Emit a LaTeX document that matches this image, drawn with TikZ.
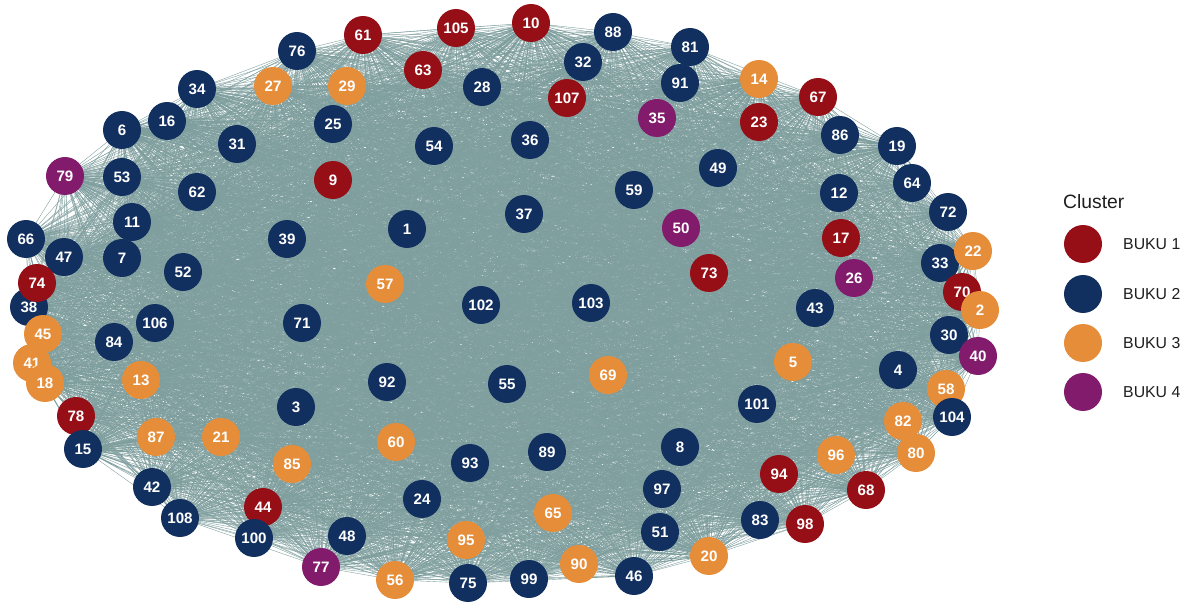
\documentclass[tikz,border=0pt]{standalone}
\usepackage{fontspec}
\setmainfont{Liberation Sans}
\usetikzlibrary{backgrounds}
\definecolor{cA}{HTML}{960E16}
\definecolor{cB}{HTML}{12305F}
\definecolor{cC}{HTML}{E68D39}
\definecolor{cD}{HTML}{821B6B}
\definecolor{edgec}{HTML}{7F9E9E}
\definecolor{legtxt}{HTML}{1E1E1E}
\tikzset{
  nd/.style={circle,inner sep=0pt,minimum size=0.76cm,text=white,
    font=\bfseries\fontsize{8.6}{10}\selectfont},
  edge/.style={draw=edgec,line width=0.22pt},
  legdot/.style={circle,inner sep=0pt,minimum size=0.76cm},
  legtext/.style={anchor=west,text=legtxt,font=\fontsize{9}{11}\selectfont},
}
\begin{document}
\begin{tikzpicture}[x=0.02cm,y=-0.02cm]
\useasboundingbox (0,0) rectangle (1186,604);
\foreach \id/\px/\py/\c in {
 76/297/51/cB, 34/197/89/cB, 27/273/86/cC, 16/167/121/cB, 6/122/130/cB,
 25/333/124/cB, 31/237/144/cB, 79/65/176/cD, 53/122/177/cB, 9/333/180/cA,
 62/197/192/cB, 11/132/222/cB, 39/287/239/cB, 66/26/239/cB, 47/64/257/cB,
 7/122/258/cB, 52/183/272/cB, 38/29/307/cB, 74/37/283/cA,
 61/363/35/cA, 105/456/28/cA, 10/531/23/cA, 88/613/32/cB, 63/423/70/cA,
 29/347/86/cC, 28/482/87/cB, 32/583/62/cB, 107/567/98/cA, 35/657/118/cD,
 54/434/146/cB, 36/530/140/cB, 59/634/190/cB, 37/524/214/cB, 1/407/229/cB,
 57/385/284/cC, 102/481/305/cB, 103/591/303/cB,
 81/690/47/cB, 91/680/83/cB, 14/759/79/cC, 67/818/97/cA, 23/759/122/cA,
 86/840/135/cB, 19/897/146/cB, 49/718/168/cB, 64/912/183/cB, 12/839/193/cB,
 72/948/212/cB, 50/681/228/cD, 17/841/238/cA, 33/940/263/cB, 22/973/251/cC,
 73/709/273/cA, 26/854/278/cD, 70/962/292/cA, 43/815/308/cB, 2/980/310/cC,
 106/155/323/cB, 71/302/323/cB, 84/114/342/cB, 45/43/334/cC, 41/32/363/cC,
 18/45/383/cC, 13/141/380/cC, 3/296/407/cB, 78/76/416/cA, 15/83/449/cB,
 87/156/437/cC, 21/221/437/cC, 85/292/464/cC, 42/152/487/cB, 44/263/507/cA,
 100/254/538/cB, 108/180/518/cB, 77/321/567/cD, 48/347/536/cB,
 92/387/382/cB, 55/507/384/cB, 69/608/375/cC, 60/396/442/cC, 93/470/463/cB,
 89/547/452/cB, 24/422/499/cB, 65/553/513/cC, 95/466/540/cC, 56/395/580/cC,
 75/468/583/cB, 99/529/579/cB, 90/579/564/cC, 46/634/576/cB, 97/662/489/cB,
 51/660/532/cB, 8/680/447/cB,
 30/949/335/cB, 40/978/356/cD, 5/793/362/cC, 4/898/370/cB, 58/946/389/cC,
 104/952/417/cB, 101/757/404/cB, 82/903/421/cC, 80/916/453/cC, 96/836/455/cC,
 94/779/474/cA, 68/866/490/cA, 83/760/520/cB, 98/805/524/cA, 20/709/556/cC}
{\node[nd,fill=\c] (n\id) at (\px,\py) {\id};}
\begin{pgfonlayer}{background}
\foreach \i in {1,...,107}{
  \pgfmathtruncatemacro\k{\i+1}
  \draw[edge] \foreach \j in {\k,...,108}{ (n\i.center) -- (n\j.center) };
}
\end{pgfonlayer}
% legend
\node[anchor=west,text=legtxt,font=\fontsize{11}{13}\selectfont] (ltitle) at (1057,202) {Cluster};
\node[legdot,fill=cA] (l1) at (1083,244) {};
\node[legdot,fill=cB] (l2) at (1083,294) {};
\node[legdot,fill=cC] (l3) at (1083,343) {};
\node[legdot,fill=cD] (l4) at (1083,392) {};
\node[legtext] (t1) at (1117,244) {BUKU 1};
\node[legtext] (t2) at (1117,294) {BUKU 2};
\node[legtext] (t3) at (1117,343) {BUKU 3};
\node[legtext] (t4) at (1117,392) {BUKU 4};
\end{tikzpicture}
\end{document}
